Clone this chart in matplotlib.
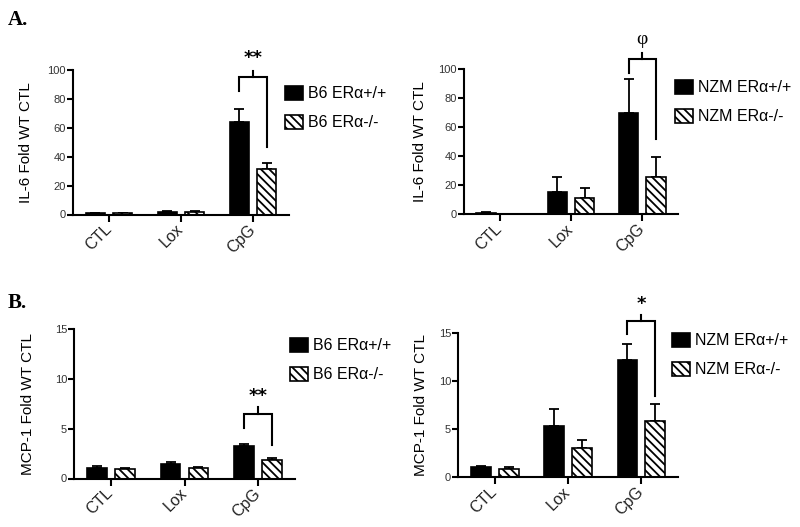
import numpy as np
import matplotlib.pyplot as plt
from matplotlib.patches import Patch

plt.rcParams['font.family'] = ['Liberation Sans', 'DejaVu Sans']
plt.rcParams['hatch.linewidth'] = 1.3

treatments = ['CTL', 'Lox', 'CpG']

# A. IL-6, B6 mice
il6_b6_wt = [0.9, 2.0, 63.8]
il6_b6_wt_err = [0.3, 0.4, 9.3]
il6_b6_ko = [0.9, 1.8, 31.2]
il6_b6_ko_err = [0.2, 0.3, 4.2]

# A. IL-6, NZM mice
il6_nzm_wt = [1.0, 15.6, 70.0]
il6_nzm_wt_err = [0.3, 9.9, 23.0]
il6_nzm_ko = [0.3, 11.5, 26.0]
il6_nzm_ko_err = [0.1, 6.4, 13.2]

# B. MCP-1, B6 mice
mcp1_b6_wt = [1.07, 1.43, 3.23]
mcp1_b6_wt_err = [0.2, 0.2, 0.2]
mcp1_b6_ko = [0.97, 1.07, 1.9]
mcp1_b6_ko_err = [0.08, 0.05, 0.13]

# B. MCP-1, NZM mice
mcp1_nzm_wt = [1.1, 5.35, 12.2]
mcp1_nzm_wt_err = [0.05, 1.73, 1.7]
mcp1_nzm_ko = [0.87, 3.02, 5.9]
mcp1_nzm_ko_err = [0.23, 0.88, 1.7]

# significance brackets: left leg end, top, right leg end, tick top
il6_b6_bracket = [85.7, 95.4, 46.9, 99.5]
il6_nzm_bracket = [97.0, 107.0, 51.6, 111.0]
mcp1_b6_bracket = [5.07, 6.47, 3.4, 7.17]
mcp1_nzm_bracket = [14.9, 16.3, 8.5, 16.9]

fig = plt.figure(figsize=(8, 5.27), dpi=100)

W = 800.0
H = 527.0


def px_axes(x0, x1, ytop, ybot):
    return fig.add_axes([x0 / W, 1 - ybot / H, (x1 - x0) / W, (ybot - ytop) / H])


def draw_panel(ax, wt, wt_err, ko, ko_err, ymax, yticks, ylabel, label_x,
               names, legend_xy, bracket, mark, mark_y, mark_kw):
    x = np.arange(len(treatments))
    off = 0.19
    w = 0.27
    ax.bar(x - off, wt, w, color='black', edgecolor='black', linewidth=1.2, zorder=2)
    ax.bar(x + off, ko, w, color='white', edgecolor='black', linewidth=1.2,
           hatch='\\\\\\\\', zorder=2)
    ax.errorbar(x - off, wt, yerr=[np.zeros(len(x)), wt_err], fmt='none',
                ecolor='black', elinewidth=1.3, capsize=3.3, capthick=1.3, zorder=1)
    ax.errorbar(x + off, ko, yerr=[np.zeros(len(x)), ko_err], fmt='none',
                ecolor='black', elinewidth=1.3, capsize=3.3, capthick=1.3, zorder=1)

    ax.set_xlim(-0.5, 2.5)
    ax.set_ylim(0, ymax)
    ax.set_yticks(yticks)
    ax.set_xticks(x)
    ax.set_xticklabels(treatments, rotation=45, ha='right', va='center',
                       rotation_mode='anchor', fontsize=11.5, color='#222222')
    for s in ['top', 'right']:
        ax.spines[s].set_visible(False)
    for s in ['left', 'bottom']:
        ax.spines[s].set_linewidth(1.5)
    ax.tick_params(axis='y', length=4, width=1.5, labelsize=8, labelcolor='#333333', pad=1)
    ax.tick_params(axis='x', length=5, width=1.5, pad=4)
    ax.set_ylabel(ylabel, fontsize=11)
    ax.yaxis.set_label_coords(label_x, 0.5)

    # bracket
    i = 2
    lx, rx = x[i] - off, x[i] + off
    l_end, top, r_end, tick_top = bracket
    ax.plot([lx, lx, rx, rx], [l_end, top, top, r_end], color='black', lw=1.5,
            clip_on=False, solid_joinstyle='miter')
    ax.plot([x[i], x[i]], [top, tick_top], color='black', lw=1.5, clip_on=False)
    ax.text(x[i], mark_y, mark, ha='center', va='center', clip_on=False, **mark_kw)

    handles = [Patch(facecolor='black', edgecolor='black', linewidth=1.2),
               Patch(facecolor='white', edgecolor='black', linewidth=1.2, hatch='\\\\\\\\')]
    ax.legend(handles, names, loc='upper left',
              bbox_to_anchor=(legend_xy[0] / W, 1 - legend_xy[1] / H),
              bbox_transform=fig.transFigure, frameon=False, fontsize=11.5,
              handlelength=1.15, handleheight=0.95, handletextpad=0.3,
              labelspacing=0.85, borderpad=0, borderaxespad=0)


star_kw = dict(fontsize=13, fontweight='bold', family='DejaVu Sans')
phi_kw = dict(fontsize=14, family='Liberation Serif')

ax1 = px_axes(73, 289, 70, 214.5)
draw_panel(ax1, il6_b6_wt, il6_b6_wt_err, il6_b6_ko, il6_b6_ko_err,
           100, [0, 20, 40, 60, 80, 100], 'IL-6 Fold WT CTL', -0.185,
           ['B6 ER\u03b1+/+', 'B6 ER\u03b1-/-'], (285, 86),
           il6_b6_bracket, '**', 108, star_kw)

ax2 = px_axes(464, 678, 69, 214.3)
draw_panel(ax2, il6_nzm_wt, il6_nzm_wt_err, il6_nzm_ko, il6_nzm_ko_err,
           100, [0, 20, 40, 60, 80, 100], 'IL-6 Fold WT CTL', -0.173,
           ['NZM ER\u03b1+/+', 'NZM ER\u03b1-/-'], (675, 80),
           il6_nzm_bracket, '\u03c6', 120, phi_kw)

ax3 = px_axes(74, 295, 329, 478.5)
draw_panel(ax3, mcp1_b6_wt, mcp1_b6_wt_err, mcp1_b6_ko, mcp1_b6_ko_err,
           15, [0, 5, 10, 15], 'MCP-1 Fold WT CTL', -0.176,
           ['B6 ER\u03b1+/+', 'B6 ER\u03b1-/-'], (290, 338),
           mcp1_b6_bracket, '**', 8.3, star_kw)

ax4 = px_axes(458, 678, 333.3, 477.3)
draw_panel(ax4, mcp1_nzm_wt, mcp1_nzm_wt_err, mcp1_nzm_ko, mcp1_nzm_ko_err,
           15, [0, 5, 10, 15], 'MCP-1 Fold WT CTL', -0.136,
           ['NZM ER\u03b1+/+', 'NZM ER\u03b1-/-'], (672, 333),
           mcp1_nzm_bracket, '*', 18.1, star_kw)

fig.text(8 / W, 1 - 25 / H, 'A.', fontsize=15, fontweight='bold',
         family='Liberation Serif', ha='left', va='baseline')
fig.text(8 / W, 1 - 308 / H, 'B.', fontsize=15, fontweight='bold',
         family='Liberation Serif', ha='left', va='baseline')

fig.savefig('out.png', dpi=100)
